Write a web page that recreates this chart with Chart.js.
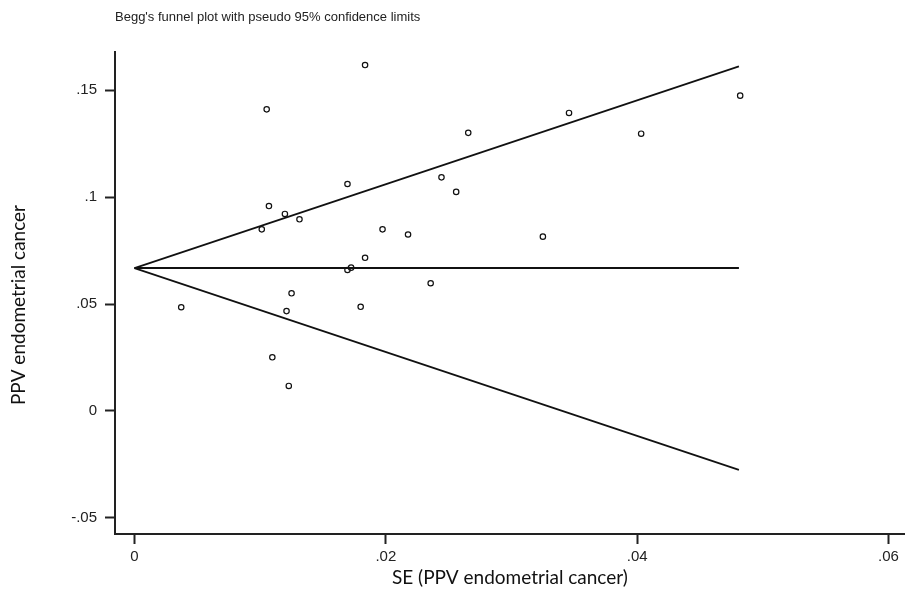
<!DOCTYPE html>
<html>
<head>
<meta charset="utf-8">
<script src="https://cdn.jsdelivr.net/npm/chart.js@4.4.1/dist/chart.umd.min.js"></script>
<style>
html,body{margin:0;padding:0;background:#ffffff;}
#wrap{width:910px;height:606px;position:relative;}
</style>
</head>
<body>
<div id="wrap"><canvas id="c" width="910" height="606"></canvas></div>
<script>
// Study estimates
const studySE  = [0.01835, 0.01052, 0.01695, 0.0107, 0.01197, 0.01313, 0.01013, 0.01974, 0.02177,
                  0.01835, 0.01724, 0.01695, 0.02357, 0.0125, 0.00372, 0.0180, 0.0121, 0.01097, 0.01228,
                  0.0482, 0.03458, 0.02656, 0.04032, 0.02443, 0.0256, 0.0325];
const studyPPV = [0.1617, 0.1410, 0.1061, 0.0958, 0.0921, 0.0896, 0.0849, 0.0849, 0.0825,
                  0.0716, 0.0670, 0.0659, 0.0597, 0.0550, 0.0485, 0.0487, 0.0467, 0.0251, 0.0117,
                  0.1474, 0.1393, 0.1300, 0.1296, 0.1092, 0.1024, 0.0815];
// Funnel lines (endpoints)
const funnelSE    = [0, 0.0481];
const pooledLine  = [0.0668, 0.0668];
const upperLimit  = [0.0668, 0.1611];
const lowerLimit  = [0.0668, -0.0275];
// Tick values and labels
const xTickValues = [0, 0.02, 0.04, 0.06];
const xTickLabels = ["0", ".02", ".04", ".06"];
const yTickValues = [-0.05, 0, 0.05, 0.1, 0.15];
const yTickLabels = ["-.05", "0", ".05", ".1", ".15"];

const titleText = "Begg's funnel plot with pseudo 95% confidence limits";
const xTitle = "SE (PPV endometrial cancer)";
const yTitle = "PPV endometrial cancer";

function pairs(xs, ys){ return xs.map((x,i)=>({x:x, y:ys[i]})); }
function labelFor(values, labels, v){
  for (let i=0;i<values.length;i++){ if (Math.abs(values[i]-v)<1e-9) return labels[i]; }
  return '';
}

const axisTitleFont = '19px Lato, "Open Sans", sans-serif';

// Draws the y-axis title (rotated) slightly below the plot centre, as in the reference
const yTitlePlugin = {
  id:'yTitlePlugin',
  afterDraw(chart){
    const ctx = chart.ctx;
    ctx.save();
    ctx.translate(19, 305);
    ctx.rotate(-Math.PI/2);
    ctx.font = axisTitleFont;
    ctx.fillStyle = '#111';
    ctx.textAlign = 'center';
    ctx.textBaseline = 'middle';
    ctx.fillText(yTitle, 0, 0);
    ctx.restore();
  }
};

const lineStyle = {type:'line', showLine:true, borderColor:'#111', borderWidth:1.7, pointRadius:0, fill:false, tension:0};

new Chart(document.getElementById('c'), {
  type:'scatter',
  data:{
    datasets:[
      Object.assign({label:'upper', data:pairs(funnelSE, upperLimit)}, lineStyle),
      Object.assign({label:'pooled', data:pairs(funnelSE, pooledLine)}, lineStyle, {borderWidth:2}),
      Object.assign({label:'lower', data:pairs(funnelSE, lowerLimit)}, lineStyle),
      {label:'studies', data:pairs(studySE, studyPPV), pointStyle:'circle', pointRadius:2.7,
       pointBorderWidth:1.2, pointBorderColor:'#111', pointBackgroundColor:'rgba(255,255,255,0)', showLine:false}
    ]
  },
  plugins:[yTitlePlugin],
  options:{
    responsive:false,
    animation:false,
    events:[],
    layout:{padding:{left:0,right:0,top:0,bottom:0}},
    plugins:{
      legend:{display:false},
      tooltip:{enabled:false},
      title:{
        display:true, text:titleText, align:'start', fullSize:false,
        color:'#222', font:{family:'Liberation Sans, Arial, sans-serif', size:13, weight:'normal'},
        padding:{top:10, bottom:26.4}
      }
    },
    scales:{
      x:{
        type:'linear', min:-0.00155, max:0.0613,
        afterBuildTicks:(s)=>{ s.ticks = xTickValues.map(v=>({value:v})); },
        afterFit:(s)=>{ s.height = 72; },
        ticks:{ autoSkip:false, maxRotation:0, padding:4, color:'#222',
          font:{family:'Liberation Sans, Arial, sans-serif', size:15},
          callback:(v)=>labelFor(xTickValues, xTickLabels, v) },
        grid:{ drawOnChartArea:false, drawTicks:true, tickLength:10, tickWidth:2, tickColor:'#222' },
        border:{ display:true, color:'#222', width:2 },
        title:{ display:true, text:xTitle, color:'#111', font:{family:'Lato, Open Sans, sans-serif', size:19}, padding:{top:0,bottom:17} }
      },
      y:{
        type:'linear', min:-0.0575, max:0.1678,
        afterBuildTicks:(s)=>{ s.ticks = yTickValues.map(v=>({value:v})); },
        afterFit:(s)=>{ s.width = 115; },
        ticks:{ autoSkip:false, padding:8, color:'#222',
          font:{family:'Liberation Sans, Arial, sans-serif', size:15},
          callback:(v)=>labelFor(yTickValues, yTickLabels, v) },
        grid:{ drawOnChartArea:false, drawTicks:true, tickLength:10, tickWidth:2, tickColor:'#222' },
        border:{ display:true, color:'#222', width:2 },
        title:{ display:false }
      }
    }
  }
});
</script>
</body>
</html>
